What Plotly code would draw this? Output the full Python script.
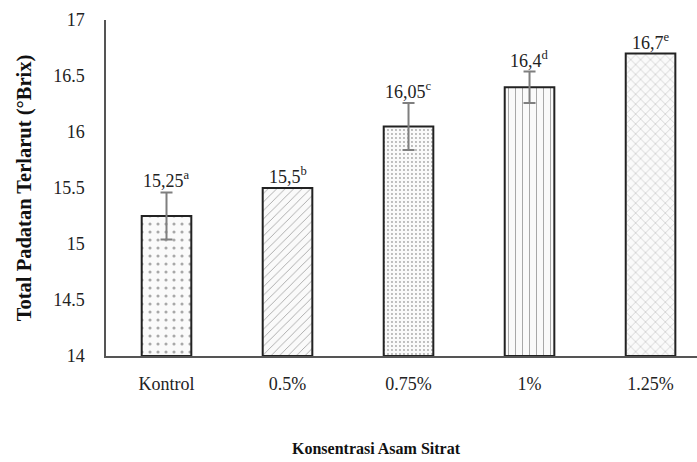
import plotly.graph_objects as go

# Total soluble solids by citric acid concentration
categories = ["Kontrol", "0.5%", "0.75%", "1%", "1.25%"]
brix = [15.25, 15.5, 16.05, 16.4, 16.7]
err = [0.21, 0.0, 0.21, 0.14, 0.0]
letters = ["a", "b", "c", "d", "e"]
y_ticks = [14, 14.5, 15, 15.5, 16, 16.5, 17]
y_tick_text = ["14", "14.5", "15", "15.5", "16", "16.5", "17"]

shapes = [".", "/", ".", "|", "x"]
pattern_sizes = [8, 6, 4, 7, 7]
pattern_solid = [0.12, 0.15, 0.18, 0.15, 0.12]

FONT = '"Liberation Serif", "Times New Roman", serif'

fig = go.Figure()
for i, cat in enumerate(categories):
    fig.add_trace(go.Bar(
        x=[cat], y=[brix[i] - 14], base=14,
        width=0.41,
        marker=dict(
            color="white",
            line=dict(color="#222222", width=2),
            pattern=dict(shape=shapes[i], fgcolor="#555555", bgcolor="#fafafa",
                         size=pattern_sizes[i], solidity=pattern_solid[i]),
        ),
        error_y=dict(type="data", array=[err[i]], visible=err[i] > 0,
                     color="#7f7f7f", thickness=2, width=6),
        showlegend=False,
        hoverinfo="skip",
    ))
    label = f"{str(brix[i]).replace('.', ',')}<sup>{letters[i]}</sup>"
    fig.add_annotation(
        x=cat, y=brix[i] + err[i], text=label, showarrow=False,
        yanchor="bottom", yshift=-1,
        font=dict(family=FONT, size=18, color="#222222"),
    )

# x-axis title
fig.add_annotation(
    xref="paper", yref="paper", x=0.457, y=-0.275, yanchor="middle",
    text="<b>Konsentrasi Asam Sitrat</b>", showarrow=False,
    font=dict(family=FONT, size=16, color="#111111"),
)

fig.update_layout(
    width=697, height=462,
    margin=dict(l=106, r=0, t=20, b=106),
    paper_bgcolor="white", plot_bgcolor="white",
    font=dict(family=FONT, size=18, color="#222222"),
    bargap=0.59,
    xaxis=dict(
        range=[-0.5, 4.384], showgrid=False, showline=True,
        linecolor="#555555", linewidth=1.5, ticks="",
        ticklabelstandoff=11,
    ),
    yaxis=dict(
        range=[14, 17], tickvals=y_ticks, ticktext=y_tick_text,
        showgrid=False, zeroline=False,
        showline=True, linecolor="#555555", linewidth=1.5, ticks="",
        ticklabelstandoff=16,
        title=dict(text="<b>Total Padatan Terlarut (°Brix)</b>",
                   font=dict(family=FONT, size=20.5, color="#111111"), standoff=16),
    ),
)

fig.write_html("out.html")
